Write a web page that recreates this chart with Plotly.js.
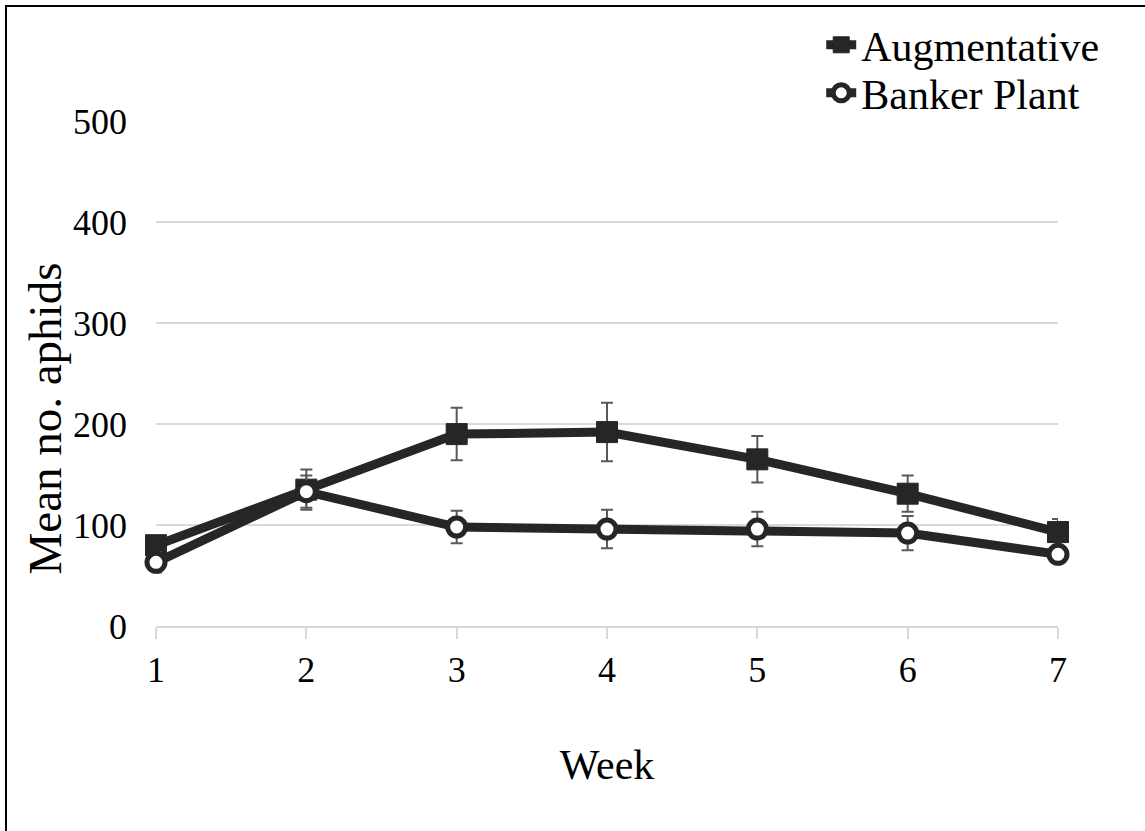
<!DOCTYPE html>
<html>
<head>
<meta charset="utf-8">
<script src="https://cdn.plot.ly/plotly-3.0.1.min.js"></script>
<style>
  html, body { margin: 0; padding: 0; background: #fff; }
  #wrap { position: relative; width: 1145px; height: 831px; overflow: hidden; }
  #frame { position: absolute; left: 5px; top: 5px; width: 1200px; height: 900px;
           border-left: 2px solid #000; border-top: 2px solid #000; pointer-events: none; }
  #chart { position: absolute; left: 0; top: 0; width: 1145px; height: 831px; }
</style>
</head>
<body>
<div id="wrap">
  <div id="chart"></div>
  <div id="frame"></div>
</div>
<script>
const weeks = [1, 2, 3, 4, 5, 6, 7];
const augmentative = [80, 135, 190, 192, 165, 131, 93];
const augmentativeErr = [8, 20, 26, 29, 23, 18, 13];
const bankerPlant = [63, 133, 98, 96, 96, 92, 71];
const bankerPlantErr = [10, 16, 16, 19, 17, 17, 8];
const yTicks = [0, 100, 200, 300, 400, 500];

const font = 'Liberation Serif, Times New Roman, serif';
const lineColor = '#262626';

const traces = [
  {
    x: weeks, y: augmentative, name: 'Augmentative', type: 'scatter', mode: 'lines+markers',
    line: {color: lineColor, width: 9},
    marker: {symbol: 'square', size: 21, color: lineColor, line: {color: lineColor, width: 1}},
    error_y: {type: 'data', array: augmentativeErr, visible: true, color: '#595959', thickness: 2, width: 6},
    cliponaxis: false, legend: 'legend'
  },
  {
    x: weeks, y: bankerPlant, name: 'Banker Plant', type: 'scatter', mode: 'lines+markers',
    line: {color: lineColor, width: 9},
    marker: {symbol: 'circle', size: 18, color: '#ffffff', line: {color: lineColor, width: 5}},
    error_y: {type: 'data', array: bankerPlantErr, visible: true, color: '#595959', thickness: 2, width: 6},
    cliponaxis: false, legend: 'legend2'
  }
];

const legendBase = {
  xanchor: 'left', yanchor: 'top',
  font: {family: font, size: 42, color: '#000000'},
  bgcolor: 'rgba(0,0,0,0)', itemwidth: 30
};

const layout = {
  width: 1145, height: 831,
  margin: {l: 156, r: 87, t: 120, b: 205},
  paper_bgcolor: '#ffffff', plot_bgcolor: '#ffffff',
  font: {family: font, color: '#000000', size: 36},
  showlegend: true,
  legend: Object.assign({}, legendBase, {x: 0.7375, y: 1.2154}),
  legend2: Object.assign({}, legendBase, {x: 0.7375, y: 1.1206}),
  xaxis: {
    range: [1, 7], tickvals: weeks, ticktext: weeks.map(String),
    showgrid: false, zeroline: false,
    showline: true, linecolor: '#d9d9d9', linewidth: 2,
    ticks: 'outside', ticklen: 11, tickcolor: '#d9d9d9', tickwidth: 2,
    tickfont: {family: font, size: 36, color: '#000000'},
    title: {text: 'Week', font: {family: font, size: 42, color: '#000000'}, standoff: 60}
  },
  yaxis: {
    range: [0, 500], tickvals: yTicks, ticktext: yTicks.map(String),
    showgrid: true, gridcolor: '#d9d9d9', gridwidth: 2,
    zeroline: false, showline: false, ticks: '',
    ticklabelstandoff: 28,
    tickfont: {family: font, size: 36, color: '#000000'}
  },
  annotations: [
    {text: 'Mean no. aphids', xref: 'paper', yref: 'paper', x: -0.123, y: 0.411,
     xanchor: 'center', yanchor: 'middle', textangle: -90, showarrow: false,
     font: {family: font, size: 47, color: '#000000'}}
  ]
};

Plotly.newPlot('chart', traces, layout, {displayModeBar: false, staticPlot: true});
</script>
</body>
</html>
